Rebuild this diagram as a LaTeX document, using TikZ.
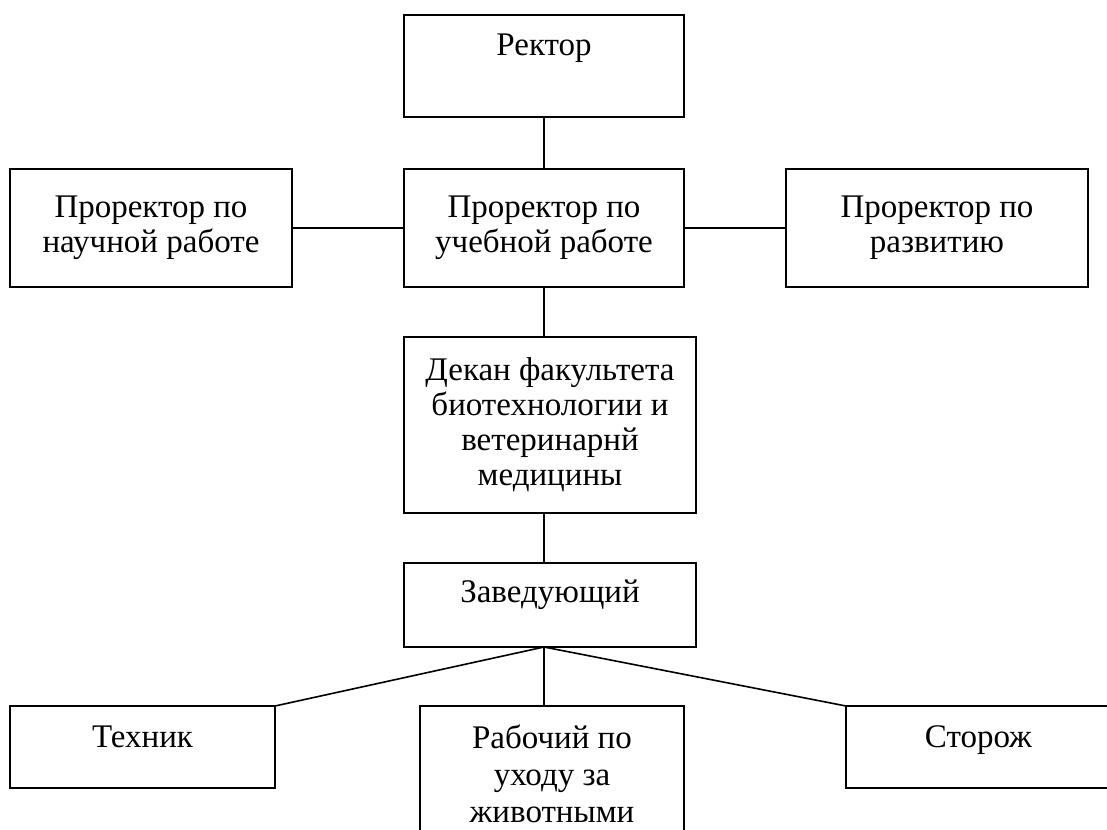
\documentclass[tikz,border=0pt]{standalone}
\usepackage{fontspec}
\setmainfont{Liberation Serif}
\usetikzlibrary{positioning}
\tikzset{block/.style={draw,line width=2pt,outer sep=0pt,inner sep=0pt,align=center,font=\fontsize{33}{35}\selectfont},
         line/.style={line width=1.6pt}
}

\begin{document}
\begin{tikzpicture}[x=1pt,y=-1pt]
\clip (0,0) rectangle (1107,829);

\node[block,minimum width=280pt,minimum height=102pt,text height=22pt,text depth=43pt] (rector) at (544,66) {Ректор};
\node[block,minimum width=280pt,minimum height=118pt,below=52pt of rector] (teach) {Проректор по\\учебной работе};
\node[block,minimum width=282pt,minimum height=118pt,left=112pt of teach] (science) {Проректор по\\научной работе};
\node[block,minimum width=302pt,minimum height=118pt,right=102pt of teach] (devel) {Проректор по\\развитию};
\node[block,minimum width=292pt,minimum height=176pt,below=50pt of teach,xshift=6pt] (dean) {Декан факультета\\биотехнологии и\\ветеринарнй\\медицины};
\node[block,minimum width=292pt,minimum height=84pt,below=50pt of dean,text height=22pt,text depth=27pt] (head) {Заведующий};
\node[block,minimum width=264pt,minimum height=135pt,below=59pt of head,xshift=2pt,font=\fontsize{33}{37}\selectfont] (worker) {Рабочий по\\уходу за\\животными};
\node[block,minimum width=265pt,minimum height=82pt,text height=22pt,text depth=21pt,below left=0pt and 145pt of worker.north west] (tech) {Техник};
\node[block,minimum width=265pt,minimum height=82pt,text height=22pt,text depth=21pt,below right=0pt and 162pt of worker.north east] (guard) {Сторож};

\coordinate (fork) at (head.south -| teach.south);
\draw[line] (rector)--(teach);
\draw[line] (science)--(teach);
\draw[line] (teach)--(devel);
\draw[line] (teach.south)--(teach.south |- dean.north);
\draw[line] (dean.south -| fork)--(head.north -| fork);
\draw[line] (fork)--(tech.north east);
\draw[line] (fork)--(fork |- worker.north);
\draw[line] (fork)--(guard.north west);

\end{tikzpicture}
\end{document}
